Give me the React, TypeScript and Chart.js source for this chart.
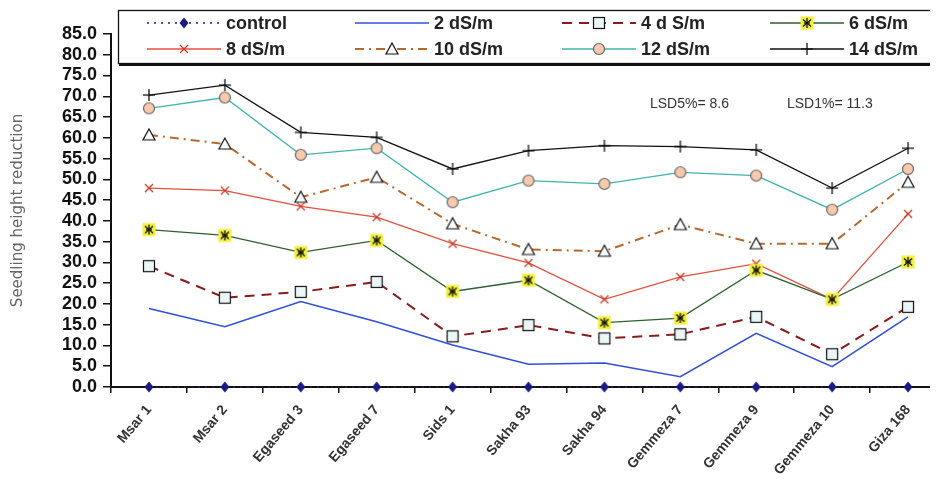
import React, { useEffect, useRef } from 'react';
import { Chart, registerables } from 'chart.js';

Chart.register(...registerables);

const categories = ['Msar 1', 'Msar 2', 'Egaseed 3', 'Egaseed 7', 'Sids 1', 'Sakha 93', 'Sakha 94', 'Gemmeza 7', 'Gemmeza 9', 'Gemmeza 10', 'Giza 168'];
const seriesNames = ['control', '2 dS/m', '4 d S/m', '6 dS/m', '8 dS/m', '10 dS/m', '12 dS/m', '14 dS/m'];
const control = [0, 0, 0, 0, 0, 0, 0, 0, 0, 0, 0];
const ds2 = [18.9, 14.5, 20.6, 15.7, 10.1, 5.5, 5.8, 2.5, 12.9, 4.9, 16.9];
const ds4 = [29.1, 21.5, 22.9, 25.3, 12.2, 14.9, 11.7, 12.7, 16.9, 7.9, 19.3];
const ds6 = [37.9, 36.5, 32.4, 35.3, 23.0, 25.7, 15.5, 16.6, 28.1, 21.1, 30.1];
const ds8 = [47.9, 47.3, 43.5, 40.9, 34.5, 29.9, 21.1, 26.5, 29.7, 21.1, 41.7];
const ds10 = [60.7, 58.5, 45.7, 50.5, 39.3, 33.1, 32.7, 39.1, 34.5, 34.5, 49.3];
const ds12 = [67.1, 69.7, 55.9, 57.5, 44.5, 49.7, 48.9, 51.7, 50.9, 42.7, 52.5];
const ds14 = [70.3, 72.7, 61.3, 60.1, 52.5, 56.9, 58.1, 57.9, 57.1, 47.9, 57.5];
const lsdTexts = ['LSD5%= 8.6', 'LSD1%= 11.3'];
const yTitle = 'Seedling height reduction';

const FONT = '"Liberation Sans", Arial, sans-serif';

function makeMarker(kind: string): HTMLCanvasElement | false {
  if (kind === 'none') return false;
  const c = document.createElement('canvas');
  const s = 16;
  c.width = s;
  c.height = s;
  const g = c.getContext('2d') as CanvasRenderingContext2D;
  const m = s / 2;
  g.lineWidth = 1.2;
  g.strokeStyle = '#111';
  const line = (x1: number, y1: number, x2: number, y2: number) => {
    g.beginPath();
    g.moveTo(x1, y1);
    g.lineTo(x2, y2);
    g.stroke();
  };
  switch (kind) {
    case 'diamond':
      g.fillStyle = '#1a1a80';
      g.beginPath();
      g.moveTo(m, m - 5.5);
      g.lineTo(m + 4.5, m);
      g.lineTo(m, m + 5.5);
      g.lineTo(m - 4.5, m);
      g.closePath();
      g.fill();
      break;
    case 'square':
      g.fillStyle = '#eaf7f7';
      g.fillRect(m - 5.5, m - 5.5, 11, 11);
      g.strokeRect(m - 5.5, m - 5.5, 11, 11);
      break;
    case 'asterisk':
      g.fillStyle = '#f3f03a';
      g.fillRect(m - 6.5, m - 6.5, 13, 13);
      g.lineWidth = 1.3;
      line(m, m - 5, m, m + 5);
      line(m - 4, m - 3.5, m + 4, m + 3.5);
      line(m + 4, m - 3.5, m - 4, m + 3.5);
      line(m - 3, m, m + 3, m);
      break;
    case 'x':
      g.strokeStyle = '#c83a2a';
      g.lineWidth = 1.3;
      line(m - 4, m - 4, m + 4, m + 4);
      line(m + 4, m - 4, m - 4, m + 4);
      break;
    case 'triangle':
      g.fillStyle = '#ffffff';
      g.beginPath();
      g.moveTo(m, m - 6);
      g.lineTo(m + 6, m + 5);
      g.lineTo(m - 6, m + 5);
      g.closePath();
      g.fill();
      g.stroke();
      break;
    case 'circle':
      g.fillStyle = '#f7c9ad';
      g.strokeStyle = '#666';
      g.beginPath();
      g.arc(m, m, 5.5, 0, Math.PI * 2);
      g.fill();
      g.stroke();
      break;
    case 'plus':
      g.lineWidth = 1.3;
      line(m, m - 6, m, m + 6);
      line(m - 6, m, m + 6, m);
      break;
  }
  return c;
}

const styles = [
  { color: '#1c1c7a', width: 1.5, dash: [2, 5], marker: 'diamond' },
  { color: '#2f4fd8', width: 1.5, dash: [], marker: 'none' },
  { color: '#8b1c1c', width: 2, dash: [10, 7], marker: 'square' },
  { color: '#2f5f2f', width: 1.3, dash: [], marker: 'asterisk' },
  { color: '#e4503e', width: 1.3, dash: [], marker: 'x' },
  { color: '#b8682c', width: 2, dash: [9, 5, 2, 5], marker: 'triangle' },
  { color: '#40b4ae', width: 1.3, dash: [], marker: 'circle' },
  { color: '#111111', width: 1.3, dash: [], marker: 'plus' },
];

// legend layout: column line starts and row centres (canvas coords)
const legendCols = [139, 347, 554, 762];
const legendRows = [15, 41];

export default function App() {
  const ref = useRef<HTMLCanvasElement | null>(null);

  useEffect(() => {
    if (!ref.current) return;
    const values = [control, ds2, ds4, ds6, ds8, ds10, ds12, ds14];
    const markers = styles.map((s) => makeMarker(s.marker));

    const datasets = values.map((v, i) => ({
      label: seriesNames[i],
      data: v,
      borderColor: styles[i].color,
      backgroundColor: styles[i].color,
      borderWidth: styles[i].width,
      borderDash: styles[i].dash,
      pointStyle: markers[i] || 'circle',
      pointRadius: markers[i] ? 6 : 0,
      pointHoverRadius: markers[i] ? 6 : 0,
      tension: 0,
      clip: false as any,
      fill: false,
    }));

    const overlay = {
      id: 'overlay',
      afterDraw(chart: any) {
        const ctx = chart.ctx as CanvasRenderingContext2D;
        ctx.save();
        // legend box
        ctx.fillStyle = '#ffffff';
        ctx.fillRect(110, 2, 900, 54);
        ctx.strokeStyle = '#111';
        ctx.lineWidth = 1.3;
        ctx.strokeRect(110.5, 2.5, 900, 53);
        ctx.lineWidth = 3;
        ctx.beginPath();
        ctx.moveTo(111, 56.5);
        ctx.lineTo(1000, 56.5);
        ctx.stroke();
        for (let i = 0; i < seriesNames.length; i++) {
          const col = i % 4;
          const row = Math.floor(i / 4);
          const x0 = legendCols[col];
          const x1 = x0 + 74;
          const y = legendRows[row];
          ctx.strokeStyle = styles[i].color;
          ctx.lineWidth = styles[i].width;
          ctx.setLineDash(styles[i].dash);
          ctx.beginPath();
          ctx.moveTo(x0, y);
          ctx.lineTo(x1, y);
          ctx.stroke();
          ctx.setLineDash([]);
          const mk = markers[i];
          if (mk) ctx.drawImage(mk, (x0 + x1) / 2 - 8, y - 8);
          ctx.fillStyle = '#222';
          ctx.font = `bold 18px ${FONT}`;
          ctx.textBaseline = 'middle';
          ctx.textAlign = 'left';
          ctx.fillText(seriesNames[i], x1 + 5, y + 1);
        }
        // LSD annotation
        ctx.fillStyle = '#333';
        ctx.font = `14px ${FONT}`;
        ctx.textBaseline = 'middle';
        ctx.fillText(lsdTexts[0], 642, 96);
        ctx.fillText(lsdTexts[1], 779, 96);
        ctx.restore();
      },
    };

    const chart = new Chart(ref.current, {
      type: 'line',
      data: { labels: categories, datasets: datasets as any },
      options: {
        animation: false,
        responsive: true,
        maintainAspectRatio: false,
        layout: { padding: { top: 26, right: 12, left: 0, bottom: 0 } },
        plugins: { legend: { display: false }, tooltip: { enabled: false } },
        scales: {
          x: {
            type: 'category',
            offset: true,
            ticks: {
              autoSkip: false,
              minRotation: 50,
              maxRotation: 50,
              padding: 9,
              color: '#333',
              font: { family: FONT, size: 14, weight: 'bold' },
            },
            grid: { drawOnChartArea: false, tickLength: 6, color: '#111', lineWidth: 1.5, offset: true },
            border: { color: '#111', width: 2 },
            afterFit: (s: any) => {
              s.height = 104;
            },
          },
          y: {
            min: 0,
            max: 85,
            ticks: {
              stepSize: 5,
              autoSkip: false,
              maxTicksLimit: 100,
              padding: 6,
              color: '#111',
              font: { family: FONT, size: 18, weight: 'bold', lineHeight: 1 },
              callback: (v: any) => Number(v).toFixed(1),
            },
            grid: { drawOnChartArea: false, tickLength: 8, color: '#111', lineWidth: 1.5 },
            border: { color: '#111', width: 2 },
            title: {
              display: true,
              text: yTitle,
              color: '#666',
              font: { family: '"DejaVu Sans", Verdana, sans-serif', size: 15 },
              padding: { top: 1, bottom: 0 },
            },
            afterFit: (s: any) => {
              s.width = 103;
            },
          },
        },
      } as any,
      plugins: [overlay],
    });
    return () => chart.destroy();
  }, []);

  return (
    <div style={{ width: 930, height: 483, overflow: 'hidden', position: 'relative' }}>
      <div style={{ width: 950, height: 483, position: 'relative' }}>
        <canvas ref={ref} />
      </div>
    </div>
  );
}
